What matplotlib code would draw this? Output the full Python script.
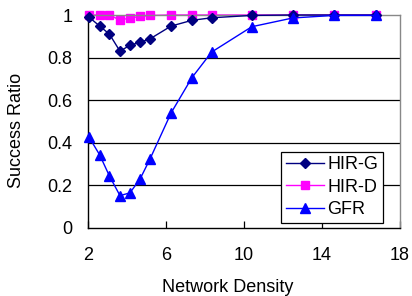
import matplotlib
matplotlib.use('Agg')
import matplotlib.pyplot as plt

# Data
density = [2.05, 2.6, 3.1, 3.64, 4.15, 4.67, 5.18, 6.26, 7.33, 8.34, 10.4, 12.5, 14.6, 16.75]
hir_g = [0.99, 0.948, 0.91, 0.83, 0.858, 0.872, 0.888, 0.948, 0.975, 0.987, 0.998, 1.0, 1.0, 1.0]
hir_d = [1.0, 1.0, 1.0, 0.976, 0.986, 0.993, 0.998, 1.0, 1.0, 1.0, 1.0, 1.0, 1.0, 1.0]
gfr = [0.427, 0.343, 0.244, 0.152, 0.165, 0.23, 0.324, 0.54, 0.706, 0.826, 0.945, 0.986, 0.998, 0.998]

x_ticks = [2, 6, 10, 14, 18]
y_ticks = [0, 0.2, 0.4, 0.6, 0.8, 1]
y_ticklabels = ['0', '0.2', '0.4', '0.6', '0.8', '1']

plt.rcParams['font.family'] = ['Liberation Sans', 'DejaVu Sans']

fig = plt.figure(figsize=(4.12, 2.96), dpi=100)
ax = fig.add_axes([88 / 412, 68 / 296, 312 / 412, 213 / 296])

for y in y_ticks[1:-1]:
    ax.axhline(y, color='black', lw=0.9, zorder=0)

ax.plot(density, hir_g, color='#000080', lw=1, marker='D', ms=5.5, label='HIR-G', zorder=3, clip_on=False)
ax.plot(density, hir_d, color='#FF00FF', lw=1, marker='s', ms=6, label='HIR-D', zorder=2, clip_on=False)
ax.plot(density, gfr, color='#0000FF', lw=1, marker='^', ms=7.5, label='GFR', zorder=4, clip_on=False)

ax.set_xlim(2, 18)
ax.set_ylim(0, 1)
ax.set_xticks(x_ticks)
ax.set_yticks(y_ticks)
ax.set_yticklabels(y_ticklabels)
ax.tick_params(axis='x', direction='in', length=5, width=0.9, pad=14, labelsize=13)
ax.tick_params(axis='y', direction='in', length=0, pad=11, labelsize=13)

for side in ['top', 'right']:
    ax.spines[side].set_color('#888888')
    ax.spines[side].set_linewidth(1)
for side in ['left', 'bottom']:
    ax.spines[side].set_color('black')
    ax.spines[side].set_linewidth(1)

ax.set_xlabel('Network Density', fontsize=13)
ax.set_ylabel('Success Ratio', fontsize=13)
# Excel centres the titles on the chart area, not the plot area
ax.xaxis.set_label_coords((228 - 88) / 312, -(288 - 228) / 213)
ax.yaxis.set_label_coords(-(88 - 17) / 312, (228 - 130) / 213)
ax.xaxis.label.set_va('center')
ax.yaxis.label.set_va('center')

leg = ax.legend(loc='lower right', bbox_to_anchor=(0.945, 0.025), fontsize=13,
                frameon=True, fancybox=False, edgecolor='black', framealpha=1,
                handlelength=2.1, handletextpad=0.2, borderpad=0.25, labelspacing=0.3,
                borderaxespad=0)
leg.get_frame().set_linewidth(0.9)

fig.savefig('out.png', dpi=100)
